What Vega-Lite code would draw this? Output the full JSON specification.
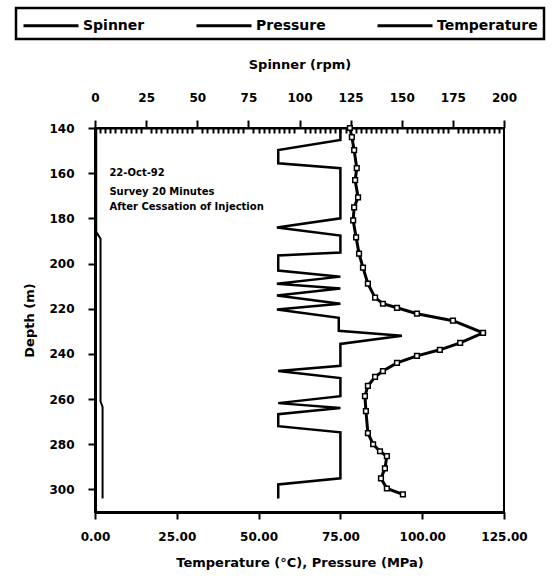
{
  "$schema": "https://vega.github.io/schema/vega-lite/v6.json",
  "width": 409,
  "height": 384,
  "autosize": {"type": "none"},
  "padding": {"left": 95, "top": 128, "right": 50, "bottom": 70},
  "background": "white",
  "config": {
    "font": "DejaVu Sans",
    "view": {"stroke": "black", "strokeWidth": 2},
    "axis": {
      "labelFont": "DejaVu Sans", "labelFontWeight": "bold", "labelFontSize": 12, "labelColor": "black",
      "titleFont": "DejaVu Sans", "titleFontWeight": "bold", "titleFontSize": 13, "titleColor": "black",
      "domainColor": "black", "tickColor": "black", "grid": false, "labelOverlap": false, "labelBound": false, "labelFlush": false
    },
    "legend": {
      "strokeColor": "black", "strokeWidth": 2.5, "padding": 6,
      "labelFont": "DejaVu Sans", "labelFontWeight": "bold", "labelFontSize": 14, "labelColor": "black",
      "symbolType": "M-1,0H4.5", "symbolStrokeWidth": 3, "symbolSize": 400, "columnPadding": 45, "labelOffset": 38
    }
  },
  "datasets": {
    "spinner": [
      {"depth": 140, "rpm": 0.6},
      {"depth": 186, "rpm": 0.6},
      {"depth": 189, "rpm": 2.7},
      {"depth": 261, "rpm": 2.7},
      {"depth": 263.5, "rpm": 3.7},
      {"depth": 304, "rpm": 3.7}
    ],
    "pressure": [
      {"depth": 140, "value": 75},
      {"depth": 145.3, "value": 75},
      {"depth": 149.8, "value": 56},
      {"depth": 155.6, "value": 56},
      {"depth": 157.8, "value": 75},
      {"depth": 180, "value": 75},
      {"depth": 184, "value": 55.6},
      {"depth": 187.6, "value": 75},
      {"depth": 195.1, "value": 75},
      {"depth": 196.4, "value": 56},
      {"depth": 203.1, "value": 56},
      {"depth": 205.8, "value": 75},
      {"depth": 208.9, "value": 55.6},
      {"depth": 211.1, "value": 75},
      {"depth": 214.2, "value": 55.6},
      {"depth": 217.8, "value": 75},
      {"depth": 220.4, "value": 55.6},
      {"depth": 224, "value": 74.5},
      {"depth": 229.8, "value": 74.5},
      {"depth": 232, "value": 93.8},
      {"depth": 235.6, "value": 75},
      {"depth": 245.3, "value": 75},
      {"depth": 247.6, "value": 56},
      {"depth": 250.7, "value": 75},
      {"depth": 258.7, "value": 75},
      {"depth": 261.8, "value": 56},
      {"depth": 264, "value": 75},
      {"depth": 266.7, "value": 56},
      {"depth": 272, "value": 56},
      {"depth": 274.7, "value": 75},
      {"depth": 295.1, "value": 75},
      {"depth": 297.8, "value": 56},
      {"depth": 304, "value": 56}
    ],
    "temperature": [
      {"depth": 140, "value": 77.9},
      {"depth": 144, "value": 78.5},
      {"depth": 149.8, "value": 79.2},
      {"depth": 157.8, "value": 80.0},
      {"depth": 163.1, "value": 79.5},
      {"depth": 170.7, "value": 80.4},
      {"depth": 175.1, "value": 79.2},
      {"depth": 180.9, "value": 78.9},
      {"depth": 188.4, "value": 79.8},
      {"depth": 195.6, "value": 80.7},
      {"depth": 201.8, "value": 81.9},
      {"depth": 208.9, "value": 83.4},
      {"depth": 215.1, "value": 85.6},
      {"depth": 217.8, "value": 88.0},
      {"depth": 219.6, "value": 92.3},
      {"depth": 222.2, "value": 98.4},
      {"depth": 225.3, "value": 109.4},
      {"depth": 230.7, "value": 118.6},
      {"depth": 235.1, "value": 111.6},
      {"depth": 238.2, "value": 105.4},
      {"depth": 240.9, "value": 98.4},
      {"depth": 244, "value": 92.3},
      {"depth": 247.6, "value": 88.0},
      {"depth": 250.2, "value": 85.6},
      {"depth": 254.2, "value": 83.4},
      {"depth": 258.7, "value": 82.5},
      {"depth": 265.3, "value": 82.8},
      {"depth": 275.1, "value": 83.4},
      {"depth": 280, "value": 85.0},
      {"depth": 283.1, "value": 87.1},
      {"depth": 285.3, "value": 89.2},
      {"depth": 290.7, "value": 88.6},
      {"depth": 295.1, "value": 87.4},
      {"depth": 299.6, "value": 89.2},
      {"depth": 302.2, "value": 94.1}
    ],
    "notes": [
      {"depth": 159.9, "value": 4.4, "text": "22-Oct-92"},
      {"depth": 168.3, "value": 4.4, "text": "Survey 20 Minutes"},
      {"depth": 175.1, "value": 4.4, "text": "After Cessation of Injection"}
    ]
  },
  "layer": [
    {
      "data": {"name": "spinner"},
      "mark": {"type": "line", "strokeWidth": 2},
      "encoding": {
        "x": {
          "field": "rpm", "type": "quantitative",
          "scale": {"domain": [0, 200], "nice": false, "zero": false},
          "axis": {
            "orient": "top", "title": "Spinner (rpm)", "titlePadding": 20,
            "values": [0,2.5,5,7.5,10,12.5,15,17.5,20,22.5,25,27.5,30,32.5,35,37.5,40,42.5,45,47.5,50,52.5,55,57.5,60,62.5,65,67.5,70,72.5,75,77.5,80,82.5,85,87.5,90,92.5,95,97.5,100,102.5,105,107.5,110,112.5,115,117.5,120,122.5,125,127.5,130,132.5,135,137.5,140,142.5,145,147.5,150,152.5,155,157.5,160,162.5,165,167.5,170,172.5,175,177.5,180,182.5,185,187.5,190,192.5,195,197.5,200],
            "labelExpr": "datum.value % 25 === 0 ? format(datum.value, 'd') : ''",
            "tickSize": {"condition": {"test": "datum.value % 25 === 0", "value": 8}, "value": -5},
            "tickWidth": 2,
            "labelPadding": 16,
            "domainWidth": 2
          }
        },
        "y": {
          "field": "depth", "type": "quantitative",
          "scale": {"domain": [140, 310], "reverse": true, "nice": false, "zero": false},
          "axis": {
            "title": "Depth (m)", "values": [140,160,180,200,220,240,260,280,300],
            "tickSize": 7, "tickWidth": 2, "labelPadding": 14, "titlePadding": 12, "domainWidth": 3
          }
        },
        "order": {"field": "depth"},
        "color": {
          "datum": "Spinner",
          "scale": {"domain": ["Spinner", "Pressure", "Temperature"], "range": ["black", "black", "black"]},
          "legend": {"title": null, "orient": "none", "legendX": -79, "legendY": -120, "direction": "horizontal"}
        }
      }
    },
    {
      "layer": [
        {
          "data": {"name": "pressure"},
          "mark": {"type": "line", "strokeWidth": 2.5},
          "encoding": {
            "x": {
              "field": "value", "type": "quantitative",
              "scale": {"domain": [0, 125], "nice": false, "zero": false},
              "axis": {
                "orient": "bottom", "title": "Temperature (°C), Pressure (MPa)",
                "values": [0, 25, 50, 75, 100, 125], "format": ".2f",
                "tickSize": 7, "tickWidth": 2, "labelPadding": 12, "titlePadding": 14, "domainWidth": 3
              }
            },
            "y": {"field": "depth", "type": "quantitative"},
            "order": {"field": "depth"},
            "color": {"datum": "Pressure"}
          }
        },
        {
          "data": {"name": "temperature"},
          "mark": {
            "type": "line", "strokeWidth": 3,
            "point": {"shape": "square", "filled": false, "fill": "white", "size": 22, "strokeWidth": 1.5, "stroke": "black"}
          },
          "encoding": {
            "x": {"field": "value", "type": "quantitative"},
            "y": {"field": "depth", "type": "quantitative"},
            "order": {"field": "depth"},
            "color": {"datum": "Temperature"}
          }
        },
        {
          "data": {"name": "notes"},
          "mark": {"type": "text", "align": "left", "baseline": "middle", "font": "DejaVu Sans", "fontWeight": "bold", "fontSize": 10, "color": "black"},
          "encoding": {
            "x": {"field": "value", "type": "quantitative"},
            "y": {"field": "depth", "type": "quantitative"},
            "text": {"field": "text"}
          }
        }
      ]
    }
  ],
  "resolve": {"scale": {"x": "independent"}, "axis": {"x": "independent"}}
}
